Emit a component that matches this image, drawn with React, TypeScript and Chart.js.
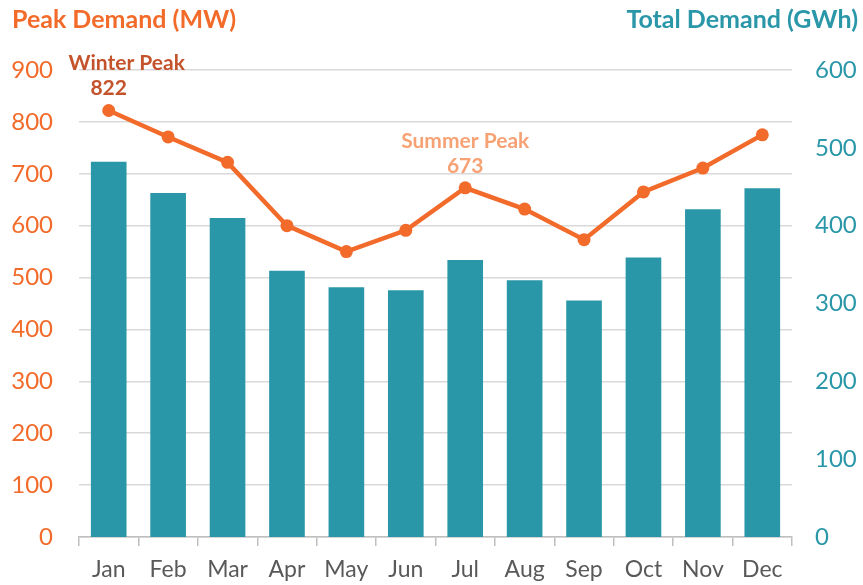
import React, { useEffect, useRef } from 'react';
import { Chart, registerables } from 'chart.js';

Chart.register(...registerables);

const months = ['Jan', 'Feb', 'Mar', 'Apr', 'May', 'Jun', 'Jul', 'Aug', 'Sep', 'Oct', 'Nov', 'Dec'];
const peakDemandMW = [822, 771, 722, 600, 550, 591, 673, 632, 573, 665, 711, 775];
const totalDemandGWh = [482, 442, 410, 342, 321, 317, 356, 330, 304, 359, 421, 448];
const leftAxisMax = 900;
const rightAxisMax = 600;
const axisStep = 100;
const leftAxisTitle = 'Peak Demand (MW)';
const rightAxisTitle = 'Total Demand (GWh)';
const peakLabels = ['Winter Peak', 'Summer Peak'];
const peakMonthIndex = [0, 6];

const ORANGE = '#F26B2A';
const TEAL = '#2A97A9';
const WINTER = '#C4532B';
const SUMMER = '#F7A274';
const FONT = 'Lato';

const overlayPlugin = {
  id: 'overlay',
  afterDatasetsDraw(chart: any) {
    const ctx = chart.ctx;
    ctx.save();
    // axis titles
    ctx.font = `bold 25px ${FONT}`;
    ctx.textBaseline = 'middle';
    ctx.textAlign = 'left';
    ctx.fillStyle = ORANGE;
    ctx.fillText(leftAxisTitle, 12, 20);
    ctx.textAlign = 'right';
    ctx.fillStyle = TEAL;
    ctx.fillText(rightAxisTitle, 858, 20);

    // peak annotations
    const meta = chart.getDatasetMeta(1);
    const colors = [WINTER, SUMMER];
    const shifts = [18, 0];
    peakMonthIndex.forEach((idx, i) => {
      const pt = meta.data[idx];
      if (!pt) return;
      ctx.fillStyle = colors[i];
      ctx.textAlign = 'center';
      ctx.font = `bold 21px ${FONT}`;
      ctx.fillText(peakLabels[i], pt.x + shifts[i], pt.y - 47);
      ctx.fillText(String(peakDemandMW[idx]), pt.x, pt.y - 22);
    });
    ctx.restore();
  },
};

export default function App() {
  const ref = useRef<HTMLCanvasElement>(null);

  useEffect(() => {
    if (!ref.current) return;
    const chart = new Chart(ref.current, {
      type: 'bar',
      data: {
        labels: months,
        datasets: [
          {
            type: 'bar',
            label: rightAxisTitle,
            data: totalDemandGWh,
            backgroundColor: TEAL,
            yAxisID: 'y1',
            barPercentage: 0.6,
            categoryPercentage: 1,
            order: 2,
          },
          {
            type: 'line',
            label: leftAxisTitle,
            data: peakDemandMW,
            borderColor: ORANGE,
            backgroundColor: ORANGE,
            borderWidth: 4.5,
            pointRadius: 6.5,
            pointBackgroundColor: ORANGE,
            pointBorderWidth: 0,
            tension: 0,
            yAxisID: 'y',
            order: 1,
          },
        ],
      } as any,
      options: {
        responsive: false,
        animation: false,
        devicePixelRatio: 1,
        layout: { padding: { top: 70, left: 0, right: 0, bottom: 0 } },
        plugins: {
          legend: { display: false },
          tooltip: { enabled: false },
          title: { display: false },
        },
        scales: {
          x: {
            offset: true,
            grid: {
              display: true,
              offset: true,
              drawOnChartArea: false,
              drawTicks: true,
              tickLength: 9,
              color: '#BFBFBF',
              lineWidth: 1.5,
            },
            border: { display: true, color: '#BFBFBF', width: 1.5 },
            ticks: { color: '#595959', font: { family: FONT, size: 23 }, padding: 10, maxRotation: 0 },
            afterFit: (s: any) => {
              s.height = 48;
            },
          },
          y: {
            position: 'left',
            min: 0,
            max: leftAxisMax,
            ticks: { stepSize: axisStep, color: ORANGE, font: { family: FONT, size: 24 }, padding: 26 },
            grid: { color: '#D9D9D9', lineWidth: 1.5, drawTicks: false },
            border: { display: false },
            afterFit: (s: any) => {
              s.width = 79;
            },
          },
          y1: {
            position: 'right',
            min: 0,
            max: rightAxisMax,
            ticks: { stepSize: axisStep, color: TEAL, font: { family: FONT, size: 24 }, padding: 23 },
            grid: { display: false, drawTicks: false },
            border: { display: false },
            afterFit: (s: any) => {
              s.width = 71;
            },
          },
        },
      } as any,
      plugins: [overlayPlugin],
    });
    return () => chart.destroy();
  }, []);

  return (
    <div style={{ position: 'absolute', left: 0, top: 0, width: 863, height: 585, background: '#fff' }}>
      <canvas ref={ref} width={863} height={585} />
    </div>
  );
}
